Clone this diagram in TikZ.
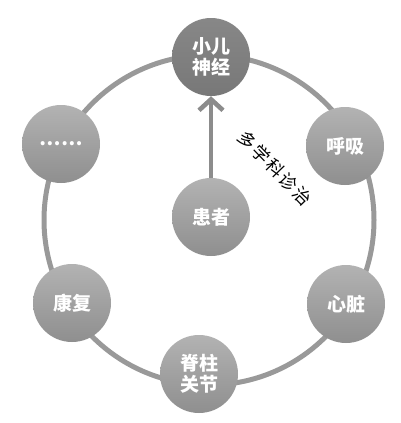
\documentclass[tikz,border=0pt]{standalone}
\usepackage{fontspec}
\newfontfamily\cjk{Noto Sans CJK SC}
\usetikzlibrary{arrows.meta}

\begin{document}
\begin{tikzpicture}[x=1pt, y=-1pt,
    ball/.style={circle, minimum size=78pt, inner sep=0pt, text=white, align=center,
        font=\cjk\bfseries\fontsize{19}{21}\selectfont, top color=black!30, bottom color=black!44},
    mainball/.style={ball, top color=black!47, bottom color=black!53},
    ring/.style={black!40, line width=5pt},
    arrowline/.style={black!45, line width=4.6pt, -{Straight Barb[length=11pt, width=24pt]}}]
    \useasboundingbox (0,0) rectangle (400,423);

    % 外側の輪
    \draw[ring] (209,220) circle (165);

    % 各科のノード
    \node[mainball] (neuro) at (211,57) {小儿\\神经};
    \foreach \x/\y/\nm/\txt in {345/146/resp/呼吸, 346/304/heart/心脏, 199/374/spine/脊柱\\关节,
                               72/303/rehab/康复, 61/144/more/……}{
        \node[ball] (\nm) at (\x,\y) {\txt};
    }

    % 中央の患者
    \node[ball] (patient) at (211,217) {患者};
    \draw[arrowline] (patient) -- (neuro);

    % 斜めのラベル
    \node[rotate=-46, font=\cjk\fontsize{17.5}{17.5}\selectfont\addfontfeature{LetterSpace=12}]
        (mdt) at (275,168) {多学科诊治};
\end{tikzpicture}
\end{document}
